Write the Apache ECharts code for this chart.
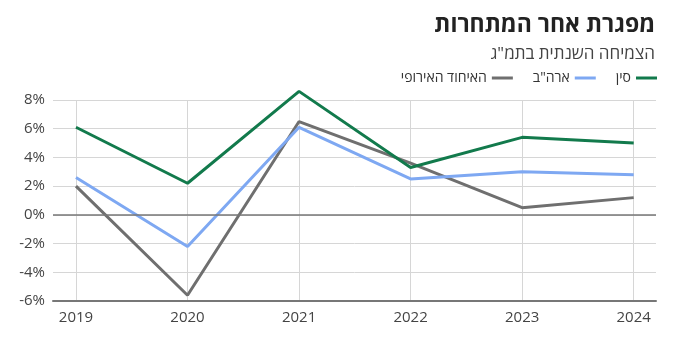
<!DOCTYPE html>
<html><head><meta charset="utf-8">
<script src="https://cdn.jsdelivr.net/npm/echarts@6/dist/echarts.min.js"></script>
<style>html,body{margin:0;padding:0;background:#fff}#c{width:675px;height:355px}</style>
</head><body><div id="c"></div>
<script>
const years = [2019, 2020, 2021, 2022, 2023, 2024];
const china = [6.1, 2.2, 8.6, 3.3, 5.4, 5.0];
const usa = [2.6, -2.2, 6.1, 2.5, 3.0, 2.8];
const eu = [2.0, -5.6, 6.5, 3.6, 0.5, 1.2];
const seriesNames = ['סין', 'ארה"ב', 'האיחוד האירופי'];
const titleText = 'מפגרת אחר המתחרות';
const subtitleText = 'הצמיחה השנתית בתמ"ג';

const FONT = '"Open Sans", "DejaVu Sans", sans-serif';
const chart = echarts.init(document.getElementById('c'));
const pair = arr => years.map((y, i) => [y, arr[i]]);
chart.setOption({
  animation: false,
  textStyle: { fontFamily: FONT },
  title: [
    { text: titleText, right: 20, top: 14, padding: 0, textStyle: { fontFamily: FONT, fontSize: 23, fontWeight: 'bold', color: '#222' } },
    { text: subtitleText, right: 20, top: 46, padding: 0, textStyle: { fontFamily: FONT, fontSize: 17, fontWeight: 'normal', color: '#444' } }
  ],
  legend: {
    right: 18, top: 71, padding: 0, align: 'right', itemGap: 20, itemWidth: 21, itemHeight: 3,
    icon: 'rect',
    data: [seriesNames[2], seriesNames[1], seriesNames[0]],
    textStyle: { fontFamily: FONT, fontSize: 14, color: '#333' }
  },
  grid: { left: 53, right: 19, top: 100, bottom: 54 },
  xAxis: {
    type: 'value', min: 2018.794, max: 2024.2,
    axisLine: { show: true, onZero: false, lineStyle: { color: '#777', width: 2 } },
    axisTick: { show: false, customValues: years },
    axisLabel: { customValues: years, color: '#444', fontSize: 15, fontFamily: FONT, margin: 9, formatter: v => String(v) },
    splitLine: { show: true, lineStyle: { color: '#d6d6d6', width: 1 } }
  },
  yAxis: {
    type: 'value', min: -6, max: 8, interval: 2,
    axisLine: { show: false }, axisTick: { show: false },
    axisLabel: { color: '#444', fontSize: 15, fontFamily: FONT, margin: 8, formatter: v => v + '%' },
    splitLine: { lineStyle: { color: '#d6d6d6', width: 1 } }
  },
  series: [
    { name: seriesNames[2], type: 'line', data: pair(eu), symbol: 'none', clip: false, lineStyle: { width: 3, color: '#6f6f6f' }, itemStyle: { color: '#6f6f6f' },
      markLine: { silent: true, symbol: 'none', label: { show: false }, lineStyle: { color: '#777', width: 1.5, type: 'solid' }, data: [{ yAxis: 0 }] }, z: 2 },
    { name: seriesNames[1], type: 'line', data: pair(usa), symbol: 'none', clip: false, lineStyle: { width: 3, color: '#7ea8f2' }, itemStyle: { color: '#7ea8f2' }, z: 3 },
    { name: seriesNames[0], type: 'line', data: pair(china), symbol: 'none', clip: false, lineStyle: { width: 3, color: '#127a4c' }, itemStyle: { color: '#127a4c' }, z: 4 }
  ]
});
</script></body></html>
